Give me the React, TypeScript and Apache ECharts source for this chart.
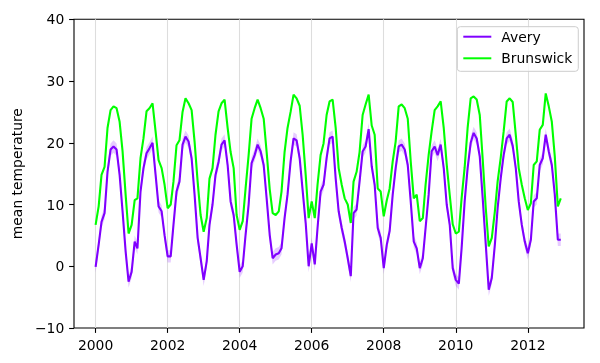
import React, { useEffect, useRef } from "react";
import * as echarts from "echarts";

const START_YEAR = 2000;

// Monthly mean temperature, Jan 2000 .. Dec 2012 (one row per year)
const averyTemps = [
  -0.1, 3.5, 7.2, 8.6, 15.3, 18.9, 19.4, 18.9, 14.8, 8.9, 2.4, -2.5,
  -0.9, 4.0, 2.9, 12.1, 15.9, 18.3, 19.1, 20.0, 14.8, 9.7, 8.9, 5.0,
  1.6, 1.6, 6.7, 12.1, 13.7, 19.7, 21.0, 20.2, 17.5, 11.6, 4.6, 1.3,
  -2.2, 0.8, 6.7, 10.0, 14.8, 16.9, 19.7, 20.4, 16.4, 10.5, 8.3, 3.5,
  -0.9, 0.0, 5.1, 10.0, 16.7, 18.0, 19.7, 18.6, 16.4, 11.0, 5.1, 1.3,
  1.9, 2.1, 2.9, 7.8, 11.6, 17.0, 20.7, 20.4, 17.5, 12.3, 7.0, 0.0,
  3.7, 0.3, 6.2, 12.1, 13.2, 17.5, 20.7, 21.0, 14.2, 8.9, 6.2, 4.0,
  1.3, -1.6, 8.6, 9.2, 13.7, 18.6, 19.4, 22.2, 16.2, 13.2, 6.2, 4.6,
  -0.3, 3.5, 5.7, 11.6, 15.9, 19.4, 19.7, 18.9, 16.4, 10.5, 4.0, 2.9,
  -0.3, 1.3, 6.2, 11.6, 18.6, 19.4, 18.0, 19.7, 15.9, 10.0, 6.7, -0.3,
  -2.2, -2.8, 2.9, 10.5, 15.9, 20.0, 21.6, 20.7, 17.8, 11.0, 3.5, -3.8,
  -1.9, 3.5, 9.4, 14.2, 18.0, 20.7, 21.3, 19.5, 15.9, 10.5, 6.7, 4.0,
  2.1, 4.3, 10.5, 11.0, 16.4, 17.5, 21.3, 18.6, 16.4, 11.6, 4.3, 4.3,
];

const brunswickTemps = [
  6.7, 9.7, 14.8, 16.1, 22.4, 25.3, 25.9, 25.6, 23.4, 18.6, 11.6, 5.3,
  6.7, 10.7, 11.0, 17.5, 20.7, 25.1, 25.6, 26.4, 21.8, 17.2, 15.9, 13.2,
  9.4, 10.0, 13.7, 19.6, 20.4, 25.0, 27.2, 26.4, 25.3, 20.2, 13.7, 8.3,
  5.6, 7.8, 14.2, 15.9, 21.3, 25.1, 26.4, 27.0, 22.4, 18.5, 15.9, 8.3,
  5.9, 7.3, 12.6, 18.0, 23.9, 25.6, 27.0, 25.6, 23.9, 18.5, 12.5, 8.6,
  8.3, 8.9, 12.1, 18.5, 22.4, 25.0, 27.8, 27.2, 26.0, 21.3, 14.8, 7.8,
  10.5, 7.8, 13.2, 18.0, 19.9, 24.5, 26.7, 27.0, 22.4, 15.9, 13.2, 11.0,
  10.0, 7.0, 13.7, 15.3, 18.5, 24.5, 26.2, 27.8, 22.8, 21.3, 12.6, 12.1,
  8.1, 10.7, 12.6, 17.0, 20.2, 25.9, 26.2, 25.6, 23.9, 17.0, 11.0, 11.6,
  7.3, 7.8, 13.2, 18.0, 21.8, 25.3, 25.9, 26.7, 22.4, 16.5, 11.5, 6.8,
  5.3, 5.6, 11.0, 16.0, 22.4, 27.2, 27.5, 27.0, 24.5, 17.3, 9.4, 3.2,
  4.6, 8.9, 13.7, 17.5, 21.8, 26.7, 27.2, 26.6, 21.3, 15.9, 13.2, 11.0,
  9.1, 10.2, 16.4, 17.0, 22.1, 22.9, 28.0, 25.9, 23.4, 17.8, 9.7, 11.0,
];

const xTickYears = [2000, 2002, 2004, 2006, 2008, 2010, 2012];
const AVERY_CI = 1.0;

const AVERY_COLOR = "#8000ff";
const BRUNSWICK_COLOR = "#00ff00";
const FONT = "DejaVu Sans";

function monthIndexToYear(i: number): number {
  const y = START_YEAR + Math.floor(i / 12);
  const m = i % 12;
  const t0 = Date.UTC(y, 0, 1);
  const t1 = Date.UTC(y + 1, 0, 1);
  return y + (Date.UTC(y, m, 1) - t0) / (t1 - t0);
}

const fmtNum = (v: number) => (v < 0 ? "\u2212" + Math.abs(v) : String(v));

export default function App() {
  const ref = useRef<HTMLDivElement>(null);

  useEffect(() => {
    if (!ref.current) return;
    const chart = echarts.init(ref.current, null, { renderer: "svg" });
    const xs = averyTemps.map((_, i) => monthIndexToYear(i));
    const averyData = xs.map((x, i) => [x, averyTemps[i]]);
    const brunswickData = xs.map((x, i) => [x, brunswickTemps[i]]);

    const axisText = { color: "#000", fontSize: 13.9, fontFamily: FONT };
    const tickLine = { color: "#000", width: 1.1 };

    chart.setOption({
      animation: false,
      textStyle: { fontFamily: FONT },
      grid: {
        left: 74,
        right: 16,
        top: 19.3,
        bottom: 35,
        show: true,
        borderColor: "#000",
        borderWidth: 1.1,
        backgroundColor: "transparent",
      },
      xAxis: {
        type: "value",
        min: 1999.4,
        max: 2013.56,
        axisLine: { show: false, onZero: false },
        axisTick: { show: true, customValues: xTickYears, length: 4.9, lineStyle: tickLine },
        axisLabel: {
          customValues: xTickYears,
          margin: 9.7,
          ...axisText,
          formatter: (v: number) => String(Math.round(v)),
        },
        splitLine: { show: true, lineStyle: { color: "#dddddd", width: 1.1 } },
      },
      yAxis: {
        type: "value",
        min: -10,
        max: 40,
        interval: 10,
        name: "mean temperature",
        nameLocation: "middle",
        nameGap: 46,
        nameTextStyle: axisText,
        axisLine: { show: false, onZero: false },
        axisTick: { show: true, length: 4.9, lineStyle: tickLine },
        axisLabel: { margin: 9.7, ...axisText, formatter: fmtNum },
        splitLine: { show: false },
      },
      legend: {
        data: [
          { name: "Avery", icon: "rect" },
          { name: "Brunswick", icon: "rect" },
        ],
        orient: "vertical",
        left: 457.3,
        top: 26.7,
        itemWidth: 28,
        itemHeight: 2,
        itemGap: 7.6,
        padding: [3, 6, 6, 6],
        backgroundColor: "rgba(255,255,255,0.8)",
        borderColor: "#cccccc",
        borderWidth: 1,
        borderRadius: 3,
        textStyle: { ...axisText, lineHeight: 14, padding: [0, 0, 0, 5] },
      },
      series: [
        {
          type: "custom",
          name: "Avery CI",
          silent: true,
          clip: true,
          z: 1,
          data: [averyData[0]],
          renderItem: (params: any, api: any) => {
            const upper = xs.map((x, i) => api.coord([x, averyTemps[i] + AVERY_CI]));
            const lower = xs
              .map((x, i) => api.coord([x, averyTemps[i] - AVERY_CI]))
              .reverse();
            return {
              type: "polygon",
              shape: { points: upper.concat(lower) },
              style: { fill: AVERY_COLOR, opacity: 0.2 },
            };
          },
        },
        {
          type: "line",
          name: "Avery",
          data: averyData,
          symbol: "none",
          showSymbol: false,
          z: 3,
          lineStyle: { color: AVERY_COLOR, width: 2.1 },
          itemStyle: { color: AVERY_COLOR },
        },
        {
          type: "line",
          name: "Brunswick",
          data: brunswickData,
          symbol: "none",
          showSymbol: false,
          z: 4,
          lineStyle: { color: BRUNSWICK_COLOR, width: 2.1 },
          itemStyle: { color: BRUNSWICK_COLOR },
        },
      ],
    });

    return () => chart.dispose();
  }, []);

  return (
    <div
      ref={ref}
      style={{ position: "fixed", left: 0, top: 0, width: 600, height: 363 }}
    />
  );
}
